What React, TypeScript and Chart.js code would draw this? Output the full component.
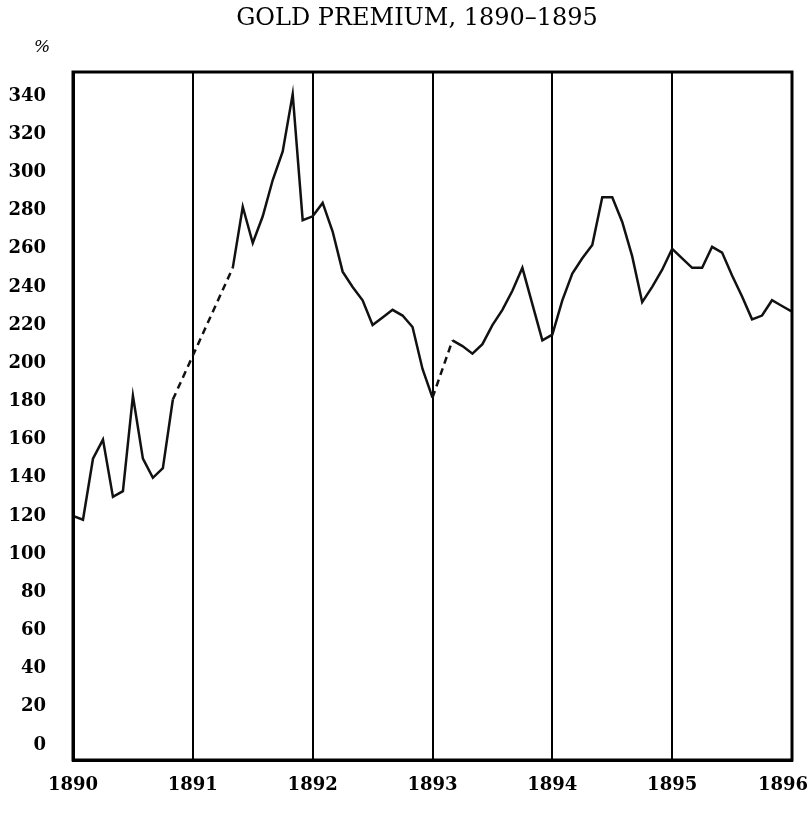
import React, { useEffect, useRef } from "react";
import { Chart, registerables } from "chart.js";

Chart.register(...registerables);

const yearLabels = ["1890", "1891", "1892", "1893", "1894", "1895", "1896"];
const yTickValues = [0, 20, 40, 60, 80, 100, 120, 140, 160, 180, 200, 220, 240, 260, 280, 300, 320, 340];

// monthly gold premium (%), Jan..Dec; null = no data (drawn dashed)
const premium1890 = [120, 118, 150, 160, 130, 133, 183, 150, 140, 145, 181, null];
const premium1891 = [null, null, null, null, 250, 282, 263, 277, 296, 311, 341, 275];
const premium1892 = [277, 284, 269, 248, 240, 233, 220, 224, 228, 225, 219, 197];
const premium1893 = [182, null, 212, 209, 205, 210, 220, 228, 238, 250, 231, 212];
const premium1894 = [215, 233, 247, 255, 262, 287, 287, 274, 256, 232, 240, 249];
const premium1895 = [260, 255, 250, 250, 261, 258, 246, 235, 223, 225, 233, 230];
const premium1896 = [227];

const TITLE = "GOLD PREMIUM, 1890–1895";
const UNIT = "%";

export default function App() {
  const ref = useRef<HTMLCanvasElement | null>(null);

  useEffect(() => {
    const all = [
      ...premium1890,
      ...premium1891,
      ...premium1892,
      ...premium1893,
      ...premium1894,
      ...premium1895,
      ...premium1896,
    ];
    const points = all.map((v, i) => ({ x: i, y: v }));

    const framePlugin = {
      id: "frame",
      afterDraw(chart: any) {
        const { ctx, chartArea: a } = chart;
        ctx.save();
        ctx.strokeStyle = "#000";
        ctx.lineWidth = 3;
        ctx.strokeRect(a.left, a.top, a.right - a.left, a.bottom - a.top);
        ctx.fillStyle = "#000";
        ctx.textAlign = "center";
        ctx.textBaseline = "middle";
        ctx.font = "24px 'DejaVu Serif'";
        ctx.fillText(TITLE, 417, 19);
        ctx.font = "italic 17px 'DejaVu Serif'";
        ctx.fillText(UNIT, 42, 48);
        // year labels under the x axis, positioned by the x scale
        const xs = chart.scales.x;
        ctx.font = "bold 18px 'DejaVu Serif'";
        ctx.textBaseline = "top";
        yearLabels.forEach((lab: string, i: number) => {
          const w = ctx.measureText(lab).width;
          let px = xs.getPixelForValue(i * 12);
          px = Math.min(px, chart.width - w / 2 - 3);
          ctx.fillText(lab, px, a.bottom + 16);
        });
        ctx.restore();
      },
    };

    const chart = new Chart(ref.current as HTMLCanvasElement, {
      type: "line",
      data: {
        datasets: [
          {
            data: points as any,
            borderColor: "#111",
            borderWidth: 2.5,
            pointRadius: 0,
            tension: 0,
            spanGaps: true,
            segment: {
              borderDash: (ctx: any) =>
                ctx.p0.skip || ctx.p1.skip ? [7, 5] : undefined,
            },
          },
        ],
      },
      options: {
        responsive: false,
        animation: false,
        layout: { padding: { top: 72, right: 19, left: 0, bottom: 0 } },
        plugins: {
          legend: { display: false },
          title: { display: false },
          tooltip: { enabled: false },
        },
        scales: {
          x: {
            type: "linear",
            min: 0,
            max: 72,
            afterBuildTicks: (s: any) => {
              s.ticks = yearLabels.map((_, i) => ({ value: i * 12 }));
            },
            afterFit: (s: any) => {
              s.height = 54;
              s.paddingLeft = 0;
              s.paddingRight = 0;
            },
            ticks: {
              display: false,
              autoSkip: false,
              maxRotation: 0,
            },
            grid: { display: true, drawTicks: false, color: "#000", lineWidth: 2 },
            border: { display: true, color: "#000", width: 3 },
          },
          y: {
            type: "linear",
            min: -7.86,
            max: 352.6,
            afterBuildTicks: (s: any) => {
              s.ticks = yTickValues.map((v) => ({ value: v }));
            },
            afterFit: (s: any) => {
              s.width = 73;
            },
            ticks: {
              autoSkip: false,
              padding: 27,
              color: "#000",
              font: { family: "'DejaVu Serif'", size: 18, weight: "bold" },
            },
            grid: { display: false, drawTicks: false },
            border: { display: true, color: "#000", width: 3 },
          },
        },
      },
      plugins: [framePlugin],
    });
    return () => chart.destroy();
  }, []);

  return (
    <div style={{ position: "absolute", left: 0, top: 0, width: 811, height: 814, background: "#fff" }}>
      <canvas ref={ref} width={811} height={814} />
    </div>
  );
}
